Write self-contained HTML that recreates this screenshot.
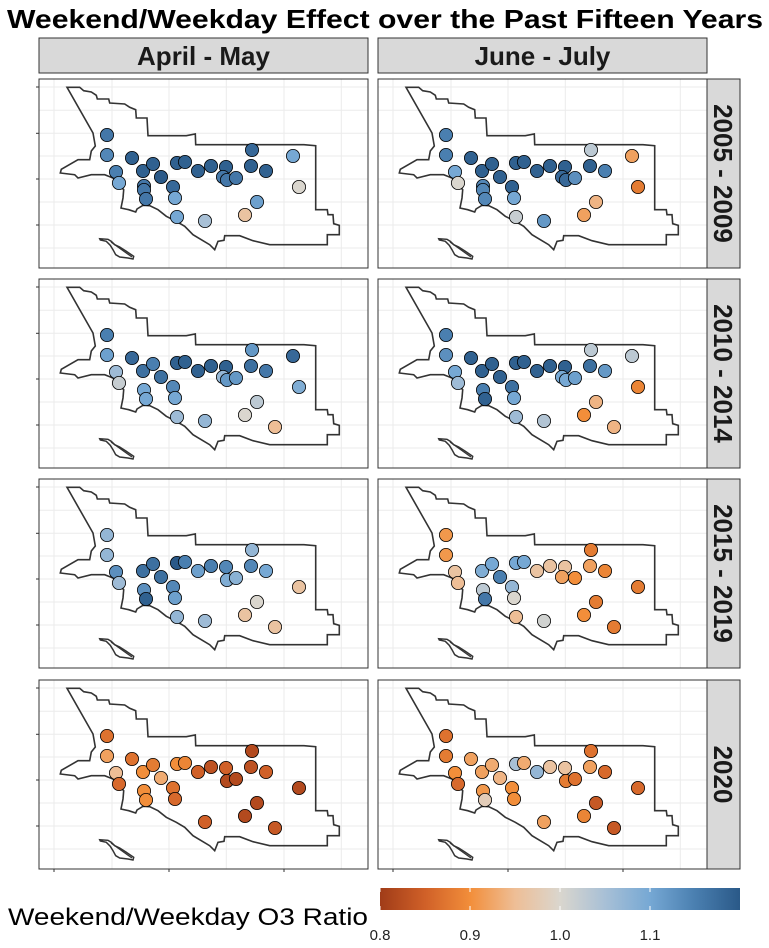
<!DOCTYPE html>
<html><head><meta charset="utf-8">
<style>
body{margin:0;background:#fff;width:769px;height:948px;overflow:hidden;font-family:"Liberation Sans",sans-serif;}
svg{display:block}
</style></head>
<body>
<svg id="chart" width="769" height="948" viewBox="0 0 769 948">
<text x="385" y="28" text-anchor="middle" font-size="26" font-weight="bold" fill="#000" textLength="756" lengthAdjust="spacingAndGlyphs">Weekend/Weekday Effect over the Past Fifteen Years</text>
</svg>
<script>
// Site positions (map coordinates, panel-relative units)
const siteX = [68,68,93,77,80,104,114,122,105,105,107,134,136,138,146,159,172,187,184,188,197,213,212,227,138,166,206,218,254,260,236];
const siteY = [56,76,79,93,104,92,85,98,107,111,120,108,119,84,83,92,87,88,98,101,99,71,87,92,138,142,136,123,77,108,148];
const colLabels = ["April - May","June - July"];
const rowLabels = ["2005 - 2009","2010 - 2014","2015 - 2019","2020"];
const N = null;
const valsA1 = [1.16,1.14,1.19,1.15,1.10,1.19,1.19,1.20,1.16,1.16,1.16,1.18,1.10,1.19,1.19,1.19,1.19,1.19,1.16,1.16,1.16,1.18,1.19,1.19,1.10,1.05,0.96,1.11,1.10,1.00,N];
const valsA2 = [1.15,1.15,1.19,1.10,1.00,1.19,1.19,1.19,1.14,1.14,1.14,1.19,1.10,1.19,1.19,1.19,1.19,1.19,1.18,1.18,1.13,1.03,1.19,1.15,1.02,1.12,0.92,0.94,0.92,0.88,N];
const valsB1 = [1.15,1.11,1.18,1.06,1.02,1.17,1.15,1.17,N,1.10,1.10,1.14,1.10,1.19,1.19,1.19,1.19,1.19,1.07,1.12,1.12,1.12,1.17,1.16,1.06,1.07,1.00,1.03,1.18,1.09,0.95];
const valsB2 = [1.15,1.13,1.19,1.10,1.06,1.19,1.19,1.19,N,1.15,1.19,1.17,1.10,1.19,1.19,1.19,1.19,1.19,1.10,1.10,1.11,1.03,1.17,1.12,1.06,1.04,0.90,0.94,1.03,0.89,0.94];
const valsC1 = [1.07,1.07,N,1.13,1.06,1.17,1.17,1.17,N,1.13,1.19,1.14,1.11,1.20,1.15,1.11,1.15,1.14,N,1.09,1.08,1.07,1.14,1.10,1.07,1.06,0.96,1.00,N,0.96,0.96];
const valsC2 = [0.91,0.91,N,0.96,0.95,1.09,1.10,1.15,N,1.03,1.16,1.07,1.00,1.10,1.10,0.96,0.96,0.96,0.92,N,0.90,0.88,0.92,0.89,0.95,1.01,0.90,0.88,N,0.88,0.88];
const valsD1 = [0.87,0.92,0.87,0.95,0.86,0.90,0.88,0.93,N,0.90,0.90,0.87,0.86,0.90,0.89,0.85,0.83,0.85,N,0.82,0.82,0.82,0.83,0.85,N,0.85,0.82,0.82,N,0.82,0.84];
const valsD2 = [0.87,0.88,0.92,0.90,0.86,0.92,0.93,0.94,N,0.91,0.98,0.90,0.90,1.05,0.93,1.07,0.96,0.96,N,0.88,0.87,0.87,0.92,0.86,N,0.92,0.89,0.84,N,0.86,0.84];
const legendTicks = [0.8,0.9,1.0,1.1];

const panelVals = [[valsA1,valsA2],[valsB1,valsB2],[valsC1,valsC2],[valsD1,valsD2]];
const svg = document.getElementById('chart');
const NS = 'http://www.w3.org/2000/svg';
function mk(tag, attrs, parent){const e=document.createElementNS(NS,tag);for(const k in attrs)e.setAttribute(k,attrs[k]);(parent||svg).appendChild(e);return e;}

const stops=[[0.8,[160,60,24]],[0.85,[208,96,40]],[0.9,[242,142,58]],[0.95,[238,190,150]],[1.0,[218,214,206]],[1.05,[168,192,214]],[1.1,[118,168,212]],[1.15,[74,127,176]],[1.2,[42,89,136]]];
function color(v){v=Math.max(0.8,Math.min(1.2,v));for(let i=0;i<stops.length-1;i++){const a=stops[i],b=stops[i+1];if(v<=b[0]){const t=(v-a[0])/(b[0]-a[0]);const c=a[1].map((x,j)=>Math.round(x+(b[1][j]-x)*t));return `rgb(${c})`;}}return 'rgb(42,89,136)';}

const colX=[39,378], panelW=329, panelH=189, rowY=[79,279,479,680];
const outline=[[28,8.3],[40.7,8.3],[44.7,11.7],[52.3,13],[57.3,16.3],[58.3,20],[69.7,20],[70.7,24],[85.7,25],[90.7,28.3],[96.7,30.7],[97.3,39],[108,39],[109,56.7],[147.3,56.7],[156.3,55],[156.7,65.7],[265,65.7],[276.7,66.7],[276.7,130.7],[288.3,130.7],[289,135.7],[294,135.7],[294.7,144.7],[300.3,146.3],[300.3,155.7],[288.3,155.7],[288.3,165.7],[230.7,165.7],[214,161.7],[200.7,156.7],[185.7,156.7],[185,161.3],[179,162.3],[175.7,170.7],[170.7,165.7],[162.3,160.7],[154,155.7],[145.7,147.3],[137.3,142.3],[127.3,137.3],[119,130.7],[110.7,126.7],[104,126.3],[98,130],[96.7,133],[89.7,130.7],[82,129],[84,119],[84.7,110.7],[80,105.7],[74,99],[65.7,95.7],[52.3,95.7],[39,99],[35.7,95.7],[21.3,94],[22.3,90.3],[39,80.7],[50.7,80.7],[52.3,72],[56.3,67],[54,54]];
const island=[[60.7,159.7],[69,160.3],[72.3,162.3],[75.7,165.7],[80.7,168],[87.3,172.3],[94.7,177.3],[94,180],[89,179],[80.7,178],[76.7,175.7],[74,170.7],[71.3,166.3],[67.3,162.3],[61.3,161]];
const gx=[15,73,130,187.3,245,302.3], gy=[8,31.3,54.3,77,100,123,146,169];

// strips
colLabels.forEach((lab,c)=>{
  const g=mk('g',{});
  
  
  mk('rect',{x:colX[c],y:38,width:panelW,height:35,fill:'#d9d9d9',stroke:'#333','stroke-width':1},g);
  const t=mk('text',{x:colX[c]+panelW/2,y:65,'text-anchor':'middle','font-size':26,'font-weight':'bold',fill:'#1a1a1a'},g);
  t.textContent=lab;
});
rowLabels.forEach((lab,r)=>{
  const g=mk('g',{});
  
  
  mk('rect',{x:707,y:rowY[r],width:33,height:panelH,fill:'#d9d9d9',stroke:'#333','stroke-width':1},g);
  const cx=714,cy=rowY[r]+panelH/2;
  const t=mk('text',{x:cx,y:cy,'text-anchor':'middle','font-size':26,'font-weight':'bold',fill:'#1a1a1a',transform:`rotate(90 ${cx} ${cy})`},g);
  t.textContent=lab;
});

const ptsStr=a=>a.map(p=>p.join(',')).join(' ');
for(let r=0;r<4;r++)for(let c=0;c<2;c++){
  const ox=colX[c],oy=rowY[r];
  const g=mk('g',{transform:`translate(${ox},${oy})`});
  
  
  mk('rect',{x:0,y:0,width:panelW,height:panelH,fill:'#fff'},g);
  gx.forEach(x=>mk('line',{x1:x,x2:x,y1:0,y2:panelH,stroke:'#ebebeb','stroke-width':1},g));
  gy.forEach(y=>mk('line',{x1:0,x2:panelW,y1:y,y2:y,stroke:'#ebebeb','stroke-width':1},g));
  const ol=mk('polygon',{points:ptsStr(outline),fill:'none',stroke:'#333','stroke-width':1.6},g);
  
  
  const isl=mk('polygon',{points:ptsStr(island),fill:'none',stroke:'#333','stroke-width':1.5},g);
  
  
  mk('line',{x1:72,y1:163,x2:93,y2:178,stroke:'#333','stroke-width':1.3},g);
  const vals=panelVals[r][c];
  vals.forEach((v,i)=>{
    if(v===null)return;
    const ci=mk('circle',{cx:siteX[i],cy:siteY[i],r:6.6,fill:color(v),stroke:'#000','stroke-width':0.8},g);
    
    
  });
  mk('rect',{x:0,y:0,width:panelW,height:panelH,fill:'none',stroke:'#333','stroke-width':1},g);
  if(c===0){[8,54.3,100,146].forEach(y=>mk('line',{x1:-3,x2:0,y1:y,y2:y,stroke:'#333','stroke-width':1},g));}
  if(r===3){[15,130,245].forEach(x=>mk('line',{x1:x,x2:x,y1:panelH,y2:panelH+3,stroke:'#333','stroke-width':1},g));}
}

// legend
const lg=mk('g',{});


const lt=mk('text',{x:8,y:925,'font-size':24,fill:'#000',textLength:360,lengthAdjust:'spacingAndGlyphs'},lg);


lt.textContent='Weekend/Weekday O3 Ratio';
const defs=mk('defs',{});
const grad=mk('linearGradient',{id:'lgGrad',x1:0,x2:1,y1:0,y2:0},defs);
stops.forEach(s=>mk('stop',{offset:((s[0]-0.8)/0.4),'stop-color':color(s[0])},grad));
const lx=v=>380+(v-0.8)*900;
const bar=mk('rect',{x:380,y:888,width:360,height:22,fill:'url(#lgGrad)'},lg);


legendTicks.forEach(v=>{
  mk('line',{x1:lx(v),x2:lx(v),y1:888,y2:892,stroke:'#fff','stroke-width':1},lg);
  mk('line',{x1:lx(v),x2:lx(v),y1:906,y2:910,stroke:'#fff','stroke-width':1},lg);
  const t=mk('text',{x:lx(v),y:940,'text-anchor':'middle','font-size':15,fill:'#222'},lg);
  
  
  t.textContent=v.toFixed(1);
});
</script>
</body></html>
